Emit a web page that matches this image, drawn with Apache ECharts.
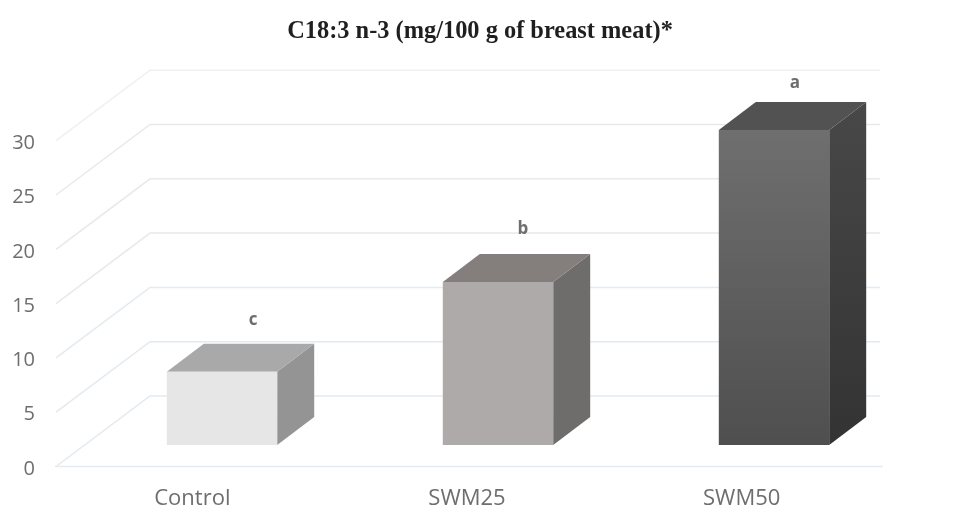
<!DOCTYPE html>
<html>
<head>
<meta charset="utf-8">
<title>C18:3 n-3</title>
<script src="https://cdn.jsdelivr.net/npm/echarts@6/dist/echarts.min.js"></script>
<style>
    html, body { margin: 0; padding: 0; background: #fff; }
    #chart { width: 960px; height: 507px; }
</style>
</head>
<body>
<div id="chart"></div>
<script>
var categories = ['Control', 'SWM25', 'SWM50'];
var values = [6.75, 15, 29];
var letters = ['c', 'b', 'a'];
var yTicks = [0, 5, 10, 15, 20, 25, 30];

(function () {
    'use strict';

    //oblique offset of the back wall from the front plane
    var WALL_DX = 95;
    var WALL_DY = 70.5;
    //bars stand part way into the floor
    var BAR_SHIFT_X = 29;
    var BAR_SHIFT_Y = 21.5;
    var BAR_DX = 37;
    var BAR_DY = 28;
    var BAR_BAND = 0.4;

    var LABEL_DX = [31, 25, 21];
    var LABEL_LIFT = [52, 53, 47];

    function vertical(top, bottom) {
        return new echarts.graphic.LinearGradient(0, 0, 0, 1, [
            { offset: 0, color: top },
            { offset: 1, color: bottom }
        ]);
    }

    var barColors = [
        { front: '#e6e6e6', top: '#a9a9a9', side: '#949494' },
        { front: '#aeaaa9', top: '#847f7d', side: '#6e6d6c' },
        { front: vertical('#6f6f6f', '#4f4f4f'), top: '#525252', side: vertical('#484848', '#333333') }
    ];

    function renderWall(params, api) {
        var grid = params.coordSys;
        var tick = api.value(1);
        var y = api.coord([0, tick])[1];
        var x0 = grid.x;
        var stroke = tick <= 10 ? '#e3eaf0' : (tick === 30 ? '#eff0f3' : '#e8e9ed');
        var children = [{
            type: 'polyline',
            shape: { points: [[x0 + 1, y], [x0 + WALL_DX, y - WALL_DY], [x0 + grid.width - 3, y - WALL_DY]] },
            style: { fill: null, stroke: stroke, lineWidth: 1.5 }
        }];
        if (tick === 0) {
            children.push({
                type: 'line',
                shape: { x1: x0, y1: y, x2: x0 + grid.width, y2: y },
                style: { stroke: stroke, lineWidth: 1.5 }
            });
        }
        return { type: 'group', silent: true, children: children };
    }

    function renderBar(params, api) {
        var i = api.value(0);
        var top = api.coord([i, api.value(1)]);
        var base = api.coord([i, 0]);
        var w = api.size([1, 0])[0] * BAR_BAND;
        var x1 = top[0] - w / 2 + BAR_SHIFT_X;
        var x2 = x1 + w;
        var yt = top[1] - BAR_SHIFT_Y;
        var yb = base[1] - BAR_SHIFT_Y;
        var c = barColors[i];
        return {
            type: 'group',
            children: [{
                type: 'polygon',
                shape: { points: [[x2, yt], [x2 + BAR_DX, yt - BAR_DY], [x2 + BAR_DX, yb - BAR_DY], [x2, yb]] },
                style: { fill: c.side }
            }, {
                type: 'polygon',
                shape: { points: [[x1, yt], [x1 + BAR_DX, yt - BAR_DY], [x2 + BAR_DX, yt - BAR_DY], [x2, yt]] },
                style: { fill: c.top }
            }, {
                type: 'rect',
                shape: { x: x1, y: yt, width: w, height: yb - yt },
                style: { fill: c.front }
            }, {
                type: 'text',
                x: (x1 + x2) / 2 + LABEL_DX[i],
                y: yt - LABEL_LIFT[i],
                style: {
                    text: letters[i],
                    fill: '#6e6e6e',
                    font: 'bold 17px "Open Sans"',
                    align: 'center',
                    verticalAlign: 'middle'
                }
            }]
        };
    }

    var myChart = echarts.init(document.getElementById('chart'), null, { renderer: 'canvas' });
    myChart.setOption({
        animation: false,
        backgroundColor: '#fff',
        title: {
            text: 'C18:3 n-3 (mg/100 g of breast meat)*',
            left: 'center',
            top: 15,
            textStyle: {
                fontFamily: '"Liberation Serif"',
                fontWeight: 'bold',
                fontSize: 24.4,
                color: '#1f1f1f'
            }
        },
        //second grid only carries the axis labels, they sit a little off the drawn plot
        grid: [
            { left: 55, right: 77, top: 140.7, bottom: 40.5, outerBoundsMode: 'none' },
            { left: 55, right: 81, top: 143.2, bottom: 38, outerBoundsMode: 'none' }
        ],
        xAxis: [{
            type: 'category',
            data: categories,
            gridIndex: 0,
            axisLine: { show: false },
            axisTick: { show: false },
            axisLabel: { show: false }
        }, {
            type: 'category',
            data: categories,
            gridIndex: 1,
            axisLine: { show: false },
            axisTick: { show: false },
            axisLabel: {
                color: '#6e6e6e',
                fontFamily: '"Open Sans"',
                fontSize: 22,
                margin: 19
            }
        }],
        yAxis: [{
            type: 'value',
            gridIndex: 0,
            min: 0,
            max: 30,
            interval: 5,
            show: false
        }, {
            type: 'value',
            gridIndex: 1,
            min: 0,
            max: 30,
            interval: 5,
            axisLine: { show: false },
            axisTick: { show: false },
            splitLine: { show: false },
            axisLabel: {
                color: '#6e6e6e',
                fontFamily: '"Open Sans"',
                fontSize: 20,
                margin: 20
            }
        }],
        series: [{
            type: 'custom',
            name: 'walls',
            clip: false,
            silent: true,
            z: 1,
            renderItem: renderWall,
            encode: { x: 0, y: 1 },
            data: yTicks.map(function (t) { return [0, t]; })
        }, {
            type: 'custom',
            name: 'C18:3 n-3',
            clip: false,
            z: 2,
            renderItem: renderBar,
            encode: { x: 0, y: 1 },
            data: values.map(function (v, i) { return [i, v]; })
        }]
    });
})();
</script>
</body>
</html>
